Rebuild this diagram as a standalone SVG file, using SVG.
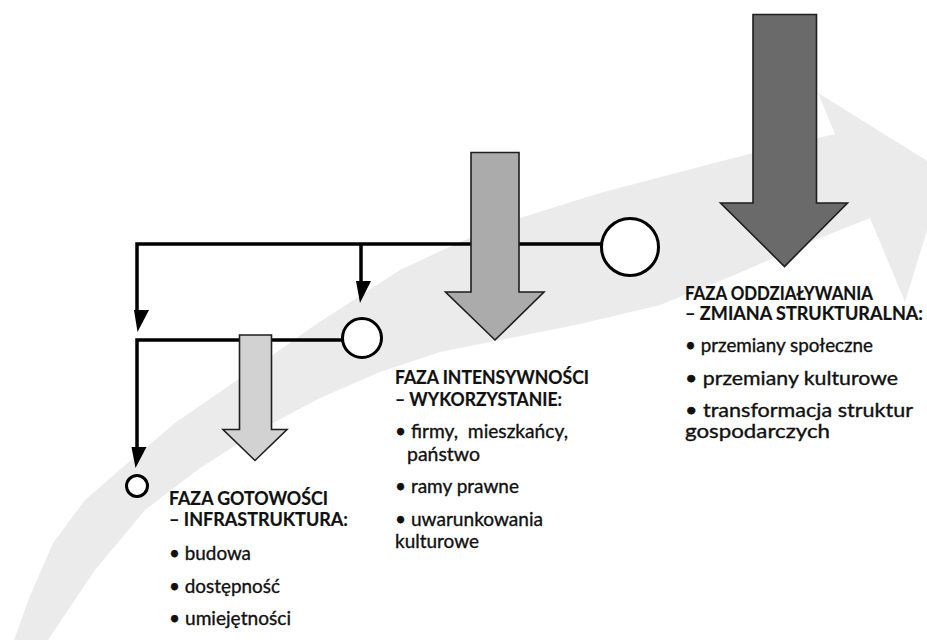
<svg xmlns="http://www.w3.org/2000/svg" width="927" height="640" viewBox="0 0 927 640">
  <style>
    .swoosh { fill: #ebebeb; }
    .conn { fill: none; stroke: #000; stroke-width: 3.5; stroke-linejoin: miter; }
    .tip { fill: #000; }
    .node { fill: #fff; stroke: #000; stroke-width: 3; }
    .phase { stroke: #1e1e1e; stroke-width: 1.6; stroke-linejoin: miter; }
    .p1 { fill: #d2d2d2; }
    .p2 { fill: #ababab; }
    .p3 { fill: #6a6a6a; }
    text { font-family: Lato, "Open Sans", "Liberation Sans", sans-serif; font-size: 19px; fill: #111; stroke: #111; stroke-width: 0.35; white-space: pre; }
    .h { font-weight: 700; font-size: 18.5px; stroke-width: 0.2; }
  </style>

  <!-- curved background arrow -->
  <path class="swoosh" d="M14,640 L30,596 L53,543 L85,500 L123,467 L175,423 L233,383 L315,325 L400,270 L460,242 L520,218 L600,193 L680,172 L753,153 L835,134 L818,93 L945,172 L905,302 L870,218 L800,246 L737,274 L660,305 L580,324 L500,340 L440,352 L380,372 L320,398 L260,430 L200,468 L145,510 L95,570 L48,640 Z"/>

  <!-- connectors -->
  <g id="connectors">
    <path class="conn" d="M137,312 V244 H601"/>
    <path class="conn" d="M361,244 V283"/>
    <path class="conn" d="M137,449 V340 H342"/>
    <polygon class="tip" points="134,310 149,310 137.5,332"/>
    <polygon class="tip" points="356,281 371,281 360,303"/>
    <polygon class="tip" points="131.5,447 146.5,447 135.5,468"/>
  </g>

  <!-- phase arrows -->
  <g id="arrow-gotowosc">
    <polygon class="phase p1" points="239.5,335 271.5,335 271.5,429.5 287,429.5 255,460.5 223,429.5 239.5,429.5"/>
  </g>
  <g id="arrow-intensywnosc">
    <polygon class="phase p2" points="471,152.5 519,152.5 519,292 544,292 495,340 445.5,292 471,292"/>
  </g>
  <g id="arrow-oddzialywanie">
    <polygon class="phase p3" points="753,14.5 816.5,14.5 816.5,203 847.5,203 784.5,266.5 720.5,203 753,203"/>
  </g>

  <!-- milestones -->
  <g id="node-small"><circle class="node" cx="137" cy="486" r="10.5"/></g>
  <g id="node-medium"><circle class="node" cx="362" cy="338" r="19.5"/></g>
  <g id="node-large"><circle class="node" cx="630" cy="247" r="28.5"/></g>

  <!-- phase descriptions -->
  <g id="label-gotowosc">
    <text class="h" x="169" y="505" textLength="159" lengthAdjust="spacingAndGlyphs">FAZA GOTOWOŚCI</text>
    <text class="h" x="169" y="526" textLength="179" lengthAdjust="spacingAndGlyphs">– INFRASTRUKTURA:</text>
    <text x="169" y="560" textLength="82" lengthAdjust="spacingAndGlyphs">• budowa</text>
    <text x="169" y="593" textLength="111" lengthAdjust="spacingAndGlyphs">• dostępność</text>
    <text x="169" y="625" textLength="122" lengthAdjust="spacingAndGlyphs">• umiejętności</text>
  </g>
  <g id="label-intensywnosc">
    <text class="h" x="395" y="384" textLength="194" lengthAdjust="spacingAndGlyphs">FAZA INTENSYWNOŚCI</text>
    <text class="h" x="395" y="406" textLength="167" lengthAdjust="spacingAndGlyphs">– WYKORZYSTANIE:</text>
    <text x="395" y="438" textLength="173" lengthAdjust="spacingAndGlyphs">• firmy,  mieszkańcy,</text>
    <text x="407" y="461" font-size="18.5" textLength="73" lengthAdjust="spacingAndGlyphs">państwo</text>
    <text x="395" y="493" textLength="124" lengthAdjust="spacingAndGlyphs">• ramy prawne</text>
    <text x="395" y="526" textLength="148" lengthAdjust="spacingAndGlyphs">• uwarunkowania</text>
    <text x="395" y="548" textLength="84" lengthAdjust="spacingAndGlyphs">kulturowe</text>
  </g>
  <g id="label-oddzialywanie">
    <text class="h" x="685" y="300" textLength="188" lengthAdjust="spacingAndGlyphs">FAZA ODDZIAŁYWANIA</text>
    <text class="h" x="685" y="320" textLength="238" lengthAdjust="spacingAndGlyphs">– ZMIANA STRUKTURALNA:</text>
    <text x="685" y="352" textLength="188" lengthAdjust="spacingAndGlyphs">• przemiany społeczne</text>
    <text x="685" y="385" textLength="213" lengthAdjust="spacingAndGlyphs">• przemiany kulturowe</text>
    <text x="685" y="417" textLength="228" lengthAdjust="spacingAndGlyphs">• transformacja struktur</text>
    <text x="685" y="438" textLength="145" lengthAdjust="spacingAndGlyphs">gospodarczych</text>
  </g>
</svg>
